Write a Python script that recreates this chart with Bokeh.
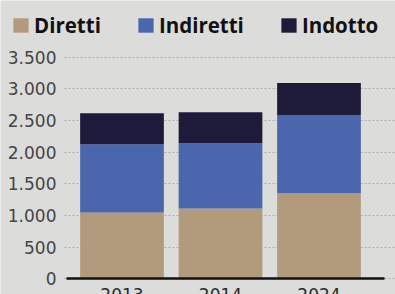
from bokeh.plotting import figure
from bokeh.models import (ColumnDataSource, Range1d, FixedTicker, Legend, LegendItem)
from bokeh.embed import file_html
from bokeh.resources import INLINE

# ---- data ----
years = ["2013", "2014", "2024"]
diretti = [1050, 1110, 1350]
indiretti = [1075, 1030, 1235]
indotto = [490, 490, 505]
series = ["Diretti", "Indiretti", "Indotto"]
y_ticks = [0, 500, 1000, 1500, 2000, 2500, 3000, 3500]

colors = ["#b29b7d", "#4a66ac", "#1e1a3a"]
bg = "#dcdcda"

X0, X1 = -1.2335, 2.7767      # full-width frame
AX = -0.584                   # where the value axis sits
XE = 2.66                     # right end of the baseline
xs = list(range(len(years)))
src = ColumnDataSource(dict(x=xs, Diretti=diretti, Indiretti=indiretti, Indotto=indotto))

p = figure(width=395, height=294, output_backend="svg", toolbar_location=None,
           x_range=Range1d(X0, X1), y_range=Range1d(-244.4, 4390.8),
           min_border=0,
           background_fill_color=bg, border_fill_color=bg, outline_line_color=None)

rs = p.vbar_stack(series, x="x", width=0.85, source=src, color=colors, line_color=None)

# x axis drawn at y = 0
xa = p.xaxis[0]
xa.fixed_location = 0
xa.bounds = (AX + 0.02, XE)
xa.ticker = FixedTicker(ticks=xs)
xa.major_label_overrides = {i: y for i, y in enumerate(years)}
xa.axis_line_color = "#111111"
xa.axis_line_width = 2.5
xa.major_tick_line_color = None
xa.minor_tick_line_color = None
xa.major_label_standoff = 3
xa.major_label_text_font = "DejaVu Sans"
xa.major_label_text_font_size = "17px"
xa.major_label_text_color = "#2a2a2a"

ya = p.yaxis[0]
ya.fixed_location = AX
ya.ticker = FixedTicker(ticks=y_ticks)
ya.major_label_overrides = {v: f"{v:,}".replace(",", ".") for v in y_ticks}
ya.axis_line_color = None
ya.major_tick_line_color = None
ya.minor_tick_line_color = None
ya.major_label_standoff = 2
ya.major_label_text_font = "DejaVu Sans"
ya.major_label_text_font_size = "17px"
ya.major_label_text_color = "#444444"
ya.major_label_text_baseline = "alphabetic"

p.xgrid.grid_line_color = None
p.ygrid.cross_bounds = (AX, X1)
p.ygrid.grid_line_color = "#8a8a8a"
p.ygrid.grid_line_dash = "2 2"
p.ygrid.grid_line_alpha = 0.6

legend = Legend(items=[LegendItem(label=s, renderers=[r]) for s, r in zip(series, rs)],
                orientation="horizontal", location="top_left",
                background_fill_alpha=0, border_line_color=None,
                padding=0, margin=11, spacing=35, label_standoff=4,
                glyph_width=19, glyph_height=18, label_height=18,
                label_text_font="Open Sans", label_text_font_style="bold",
                label_text_font_size="20.5px", label_text_color="#111111")
p.add_layout(legend, "center")

open("out.html", "w").write(file_html(p, INLINE))
